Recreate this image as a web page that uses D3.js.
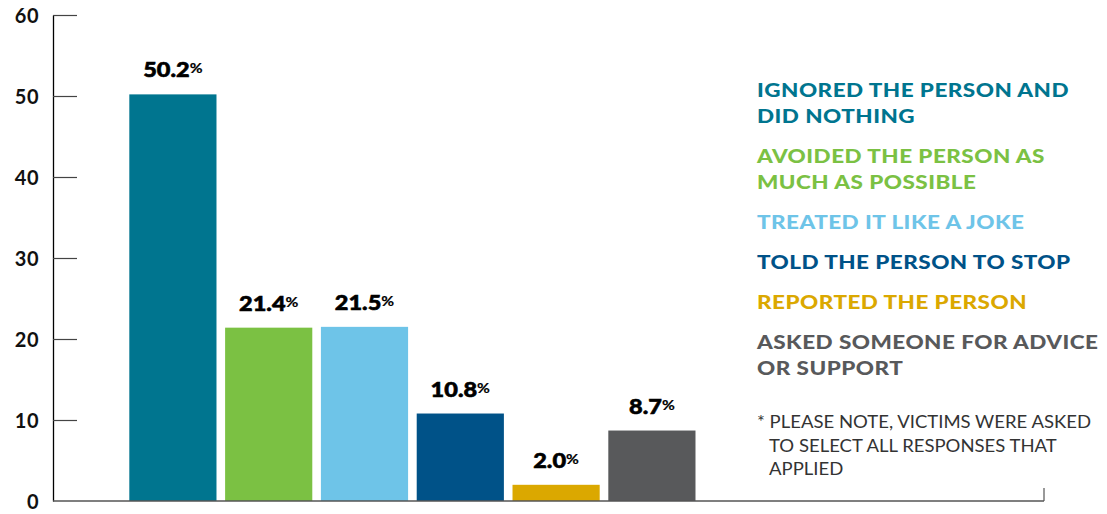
<!DOCTYPE html>
<html>
<head>
<meta charset="utf-8">
<script src="https://cdn.jsdelivr.net/npm/d3@7"></script>
<style>
  body { margin: 0; background: #fff; }
  svg { display: block; font-family: Lato, "Open Sans", sans-serif; }
</style>
</head>
<body>
<svg id="drawing_region"></svg>
<script>
// chart data
const categories = [
    'IGNORED THE PERSON AND DID NOTHING',
    'AVOIDED THE PERSON AS MUCH AS POSSIBLE',
    'TREATED IT LIKE A JOKE',
    'TOLD THE PERSON TO STOP',
    'REPORTED THE PERSON',
    'ASKED SOMEONE FOR ADVICE OR SUPPORT'
];
const values = [50.2, 21.4, 21.5, 10.8, 2.0, 8.7];
const colors = ['#00758f', '#7bc143', '#6ec4e8', '#005288', '#dba800', '#58595b'];
const legendLines = [
    ['IGNORED THE PERSON AND', 'DID NOTHING'],
    ['AVOIDED THE PERSON AS', 'MUCH AS POSSIBLE'],
    ['TREATED IT LIKE A JOKE'],
    ['TOLD THE PERSON TO STOP'],
    ['REPORTED THE PERSON'],
    ['ASKED SOMEONE FOR ADVICE', 'OR SUPPORT']
];
const yTicks = [0, 10, 20, 30, 40, 50, 60];
const noteLines = ['* PLEASE NOTE, VICTIMS WERE ASKED', 'TO SELECT ALL RESPONSES THAT', 'APPLIED'];

const width = 1107, height = 514;
const margin = {top: 15, right: 63, bottom: 13, left: 53};

const svg = d3.select('#drawing_region')
    .attr('width', width)
    .attr('height', height);

const chart = svg.append('g')
    .attr('transform', `translate(${margin.left}, ${margin.top})`);

const inner_width = width - margin.left - margin.right;
const inner_height = height - margin.top - margin.bottom;

const yscale = d3.scaleLinear()
    .domain([0, 60])
    .range([inner_height, 0]);

const xscale = d3.scaleBand()
    .domain(categories)
    .range([72, 72 + 95.8 * 6])
    .paddingInner(0.09)
    .paddingOuter(0.045);

// widen glyphs of a text by factor k (the reference font is a wide geometric one)
function widen(sel, k) {
    sel.each(function() {
        const w = this.getComputedTextLength();
        d3.select(this)
            .attr('textLength', w * k)
            .attr('lengthAdjust', 'spacingAndGlyphs');
    });
}

// bars
chart.selectAll('rect.bar')
    .data(values)
    .join('rect')
    .attr('class', 'bar')
    .attr('x', (d, i) => xscale(categories[i]))
    .attr('y', d => yscale(d))
    .attr('width', xscale.bandwidth())
    .attr('height', d => inner_height - yscale(d))
    .attr('fill', (d, i) => colors[i]);

// value labels
const lab = chart.selectAll('text.val')
    .data(values)
    .join('text')
    .attr('class', 'val')
    .attr('x', (d, i) => xscale(categories[i]) + xscale.bandwidth() / 2)
    .attr('y', d => yscale(d) - 17)
    .attr('text-anchor', 'middle')
    .style('font-family', 'Lato, sans-serif')
    .style('font-weight', 900)
    .style('font-size', '21px')
    .attr('fill', '#000')
    .attr('stroke', '#000')
    .attr('stroke-width', 0.6);
lab.append('tspan').text(d => d.toFixed(1));
lab.append('tspan')
    .attr('dy', -4)
    .style('font-size', '14px')
    .style('font-weight', 700)
    .attr('stroke-width', 0.2)
    .text('%');
widen(lab, 1.12);

// y axis
const yaxis = d3.axisLeft(yscale)
    .tickValues(yTicks)
    .tickSize(0)
    .tickPadding(14);
const yg = chart.append('g').call(yaxis);
yg.select('.domain').attr('stroke', '#000').attr('stroke-width', 1.3);
yg.selectAll('.tick text')
    .style('font-family', 'Lato, sans-serif')
    .style('font-size', '20px')
    .style('font-weight', 700)
    .style('letter-spacing', '0.5px')
    .attr('fill', '#111')
    .attr('dy', '0.36em');
yg.selectAll('.tick')
    .filter(d => d > 0)
    .append('line')
    .attr('x1', 0)
    .attr('x2', 24)
    .attr('stroke', '#444')
    .attr('stroke-width', 1.2);

// bottom axis line with end tick
chart.append('line')
    .attr('x1', 0)
    .attr('x2', 991)
    .attr('y1', yscale(0))
    .attr('y2', yscale(0))
    .attr('stroke', '#555')
    .attr('stroke-width', 1.5);
chart.append('line')
    .attr('x1', 991)
    .attr('x2', 991)
    .attr('y1', yscale(0))
    .attr('y2', yscale(0) - 13)
    .attr('stroke', '#555')
    .attr('stroke-width', 1.2);

// legend
const legend = svg.append('g').attr('transform', 'translate(757, 0)');
let ly = 97;
legendLines.forEach((lines, i) => {
    lines.forEach((t, j) => {
        legend.append('text')
            .attr('class', 'leg')
            .attr('x', 0)
            .attr('y', ly + j * 26)
            .style('font-family', 'Lato, sans-serif')
            .style('font-weight', 900)
            .style('font-size', '19px')
            .style('letter-spacing', '0.4px')
            .attr('fill', colors[i])
            .text(t);
    });
    ly += (lines.length - 1) * 26 + 40;
});
const legTexts = legend.selectAll('text.leg');
const legK = 312 / legTexts.node().getComputedTextLength();
widen(legTexts, legK);

// note
const note = svg.selectAll('text.note')
    .data(noteLines)
    .join('text')
    .attr('class', 'note')
    .attr('x', (d, i) => i === 0 ? 757 : 769)
    .attr('y', (d, i) => 428 + i * 23.5)
    .style('font-family', 'Lato, sans-serif')
    .style('font-weight', 400)
    .style('font-size', '17.5px')
    .attr('fill', '#333')
    .text(d => d);
widen(note, 334 / note.node().getComputedTextLength());
</script>
</body>
</html>
